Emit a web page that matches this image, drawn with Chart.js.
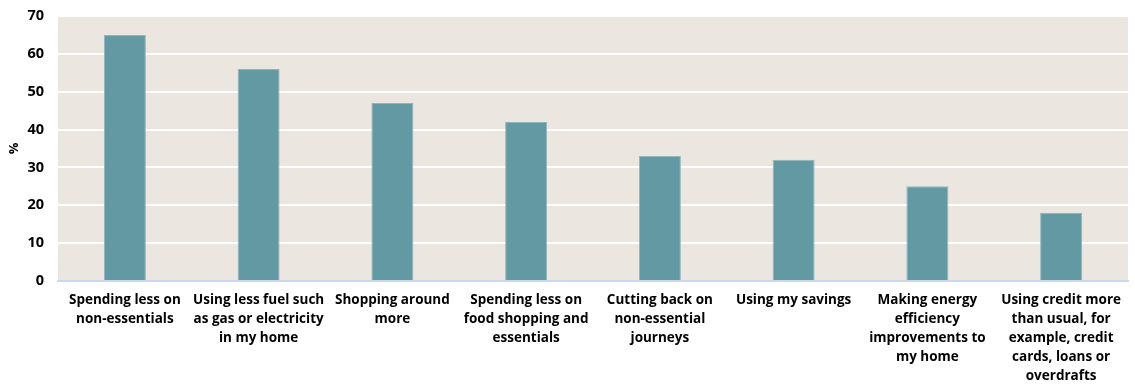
<!DOCTYPE html>
<html>
<head>
<meta charset="utf-8">
<script src="https://cdn.jsdelivr.net/npm/chart.js@4.4.0/dist/chart.umd.min.js"></script>
<style>
  html, body { margin: 0; padding: 0; background: #ffffff; }
  #wrap { width: 1135px; height: 388px; }
</style>
</head>
<body>
<div id="wrap"><canvas id="chart" width="1135" height="388"></canvas></div>
<script>
const categories = [
  ['Spending less on', 'non-essentials'],
  ['Using less fuel such', 'as gas or electricity', 'in my home'],
  ['Shopping around', 'more'],
  ['Spending less on', 'food shopping and', 'essentials'],
  ['Cutting back on', 'non-essential', 'journeys'],
  ['Using my savings'],
  ['Making energy', 'efficiency', 'improvements to', 'my home'],
  ['Using credit more', 'than usual, for', 'example, credit', 'cards, loans or', 'overdrafts']
];
const values = [65, 56, 47, 42, 33, 32, 25, 18];
const yTicks = [0, 10, 20, 30, 40, 50, 60, 70];

// beige plot background
const plotBg = {
  id: 'plotBg',
  beforeDraw(chart) {
    const { ctx, chartArea: a } = chart;
    ctx.save();
    ctx.fillStyle = '#ebe6e0';
    ctx.fillRect(a.left, a.top, a.right - a.left, a.bottom - a.top);
    ctx.restore();
  }
};

const fontFam = "'Open Sans', 'Noto Sans', sans-serif";

new Chart(document.getElementById('chart').getContext('2d'), {
  type: 'bar',
  data: {
    labels: categories,
    datasets: [{
      label: '%',
      data: values,
      backgroundColor: '#6399a2',
      borderColor: '#8fb6bd',
      borderWidth: 1,
      barPercentage: 1,
      categoryPercentage: 0.314
    }]
  },
  options: {
    responsive: false,
    animation: false,
    layout: { padding: { top: 16, right: 7, left: 6, bottom: 0 } },
    plugins: { legend: { display: false }, tooltip: { enabled: false } },
    scales: {
      x: {
        grid: { display: false, drawTicks: false },
        border: { color: '#c6d9f0', width: 2 },
        ticks: {
          color: '#000',
          maxRotation: 0,
          autoSkip: false,
          padding: 10,
          font: { family: fontFam, size: 13.5, weight: 'bold', lineHeight: 1.4 }
        },
        afterFit(scale) {
          scale.height = 388 - 281;
          scale.paddingLeft = 0;
          scale.paddingRight = 0;
        }
      },
      y: {
        min: 0,
        max: 70,
        afterBuildTicks(scale) { scale.ticks = yTicks.map(v => ({ value: v })); },
        grid: { color: '#ffffff', lineWidth: 2, drawTicks: false },
        border: { display: false },
        title: {
          display: true,
          text: '%',
          color: '#000',
          padding: 0,
          font: { family: fontFam, size: 13, weight: 'bold' }
        },
        ticks: {
          color: '#000',
          padding: 14,
          font: { family: fontFam, size: 14.5, weight: 'bold' }
        },
        afterFit(scale) {
          scale.width = 52;
          scale.paddingTop = 0;
          scale.paddingBottom = 0;
        }
      }
    }
  },
  plugins: [plotBg]
});
</script>
</body>
</html>
